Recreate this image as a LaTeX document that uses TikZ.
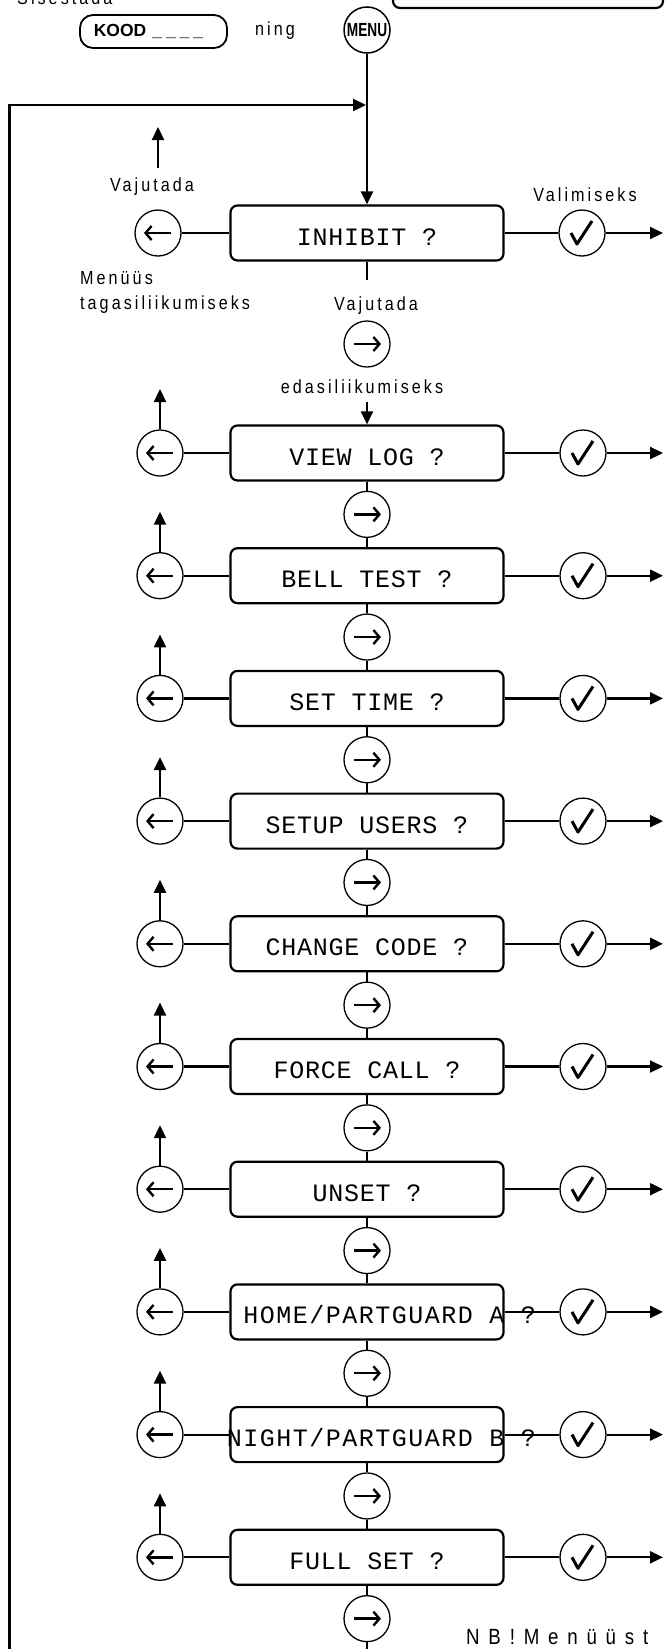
\documentclass[tikz,border=0pt]{standalone}
\usepackage{fontspec}
\usetikzlibrary{arrows.meta,calc}
\newfontfamily\boxfont[LetterSpace=3]{Liberation Mono}
\newfontfamily\wideboxfont[LetterSpace=6]{Liberation Mono}
\newfontfamily\lblfont[FakeStretch=0.85,LetterSpace=16]{Liberation Sans}
\newfontfamily\nbfont[FakeStretch=0.85,LetterSpace=40]{Liberation Sans}
\newfontfamily\keyfont{Liberation Sans}
\newfontfamily\menufont[FakeStretch=0.72]{Liberation Sans}
\begin{document}
\begin{tikzpicture}[x=1pt,y=-1pt,
  conn/.style={line width=2.2pt},
  thinconn/.style={line width=1.3pt},
  tip/.style={-{Triangle[length=13pt,width=12pt]}},
  menubox/.style={draw,line width=2.2pt,rounded corners=7pt,minimum width=273pt,minimum height=55pt,inner sep=0pt,font=\boxfont\fontsize{25}{30}\selectfont,text height=24pt,text depth=0pt},
  boxtxt/.style={inner sep=0pt,font=\wideboxfont\fontsize{25}{30}\selectfont,text height=24pt,text depth=0pt},
  circ/.style={draw,circle,line width=1.3pt,minimum size=46pt,inner sep=0pt},
  backc/.style={circ,path picture={\draw[line width=2.4pt,-{Straight Barb[length=6pt,width=14pt]}] ([xshift=13pt]path picture bounding box.center) -- ([xshift=-14pt]path picture bounding box.center);}},
  fwdc/.style={circ,path picture={\draw[line width=2.4pt,-{Straight Barb[length=6pt,width=14pt]}] ([xshift=-13pt]path picture bounding box.center) -- ([xshift=14pt]path picture bounding box.center);}},
  okc/.style={circ,path picture={\draw[line width=3pt,line join=round] ([shift={(-11pt,0pt)}]path picture bounding box.center) -- ([shift={(-5pt,-11pt)}]path picture bounding box.center) -- ([shift={(10pt,12pt)}]path picture bounding box.center);}},
  lbl/.style={inner sep=0pt,font=\lblfont\fontsize{19}{22}\selectfont},
]
\useasboundingbox (0,0) rectangle (665,1649);

% top
\node[lbl,anchor=base west] (sis) at (17,4) {Sisestada};
\node[draw,line width=2.2pt,rounded corners=7pt,minimum width=270pt,minimum height=48pt,inner sep=0pt] (tr) at (528,-16) {};
\node[draw,line width=1.8pt,rounded corners=13pt,minimum width=147pt,minimum height=33pt,inner sep=0pt,font=\keyfont\bfseries\fontsize{17.5}{20}\selectfont] (k) at (153.5,31.5) {KOOD\hspace{6pt}\_\hspace{4pt}\_\hspace{4pt}\_\hspace{4pt}\_\hspace*{10pt}};
\node[lbl] (ning) at (275,31) {ning};
\node[circ,line width=1.5pt,font=\menufont\bfseries\fontsize{19}{22}\selectfont] (m) at (367,30) {MENU};

% INHIBIT row
\node[menubox] (b0) at (367,233) {INHIBIT ?};
\node[backc] (l0) at (158,233) {};
\node[okc] (c0) at (582,233) {};
\node[lbl] (v0) at (152,187) {Vajutada};
\node[lbl] (val) at (585,195) {Valimiseks};
\node[lbl,anchor=west] (mn) at (80,278) {Menüüs};
\node[lbl,anchor=west] (tg) at (80,305) {tagasiliikumiseks};
\node[lbl] (v1) at (376,306) {Vajutada};
\node[fwdc] (f0) at (367,344) {};
\node[lbl] (ed) at (362,387) {edasiliikumiseks};
\coordinate (u0a) at (158,168);
\coordinate (u0b) at (158,127);
\coordinate (o0) at (663,233);
\coordinate (t0) at (367,280);
\coordinate (d0) at (367,402);
\coordinate (fbs) at (9.5,1649);
\coordinate (fbj) at (366,105);

% menu boxes
\node[menubox] (b1) at (367,453) {VIEW LOG ?};
\node[menubox] (b2) at (367,575.7) {BELL TEST ?};
\node[menubox] (b3) at (367,698.4) {SET TIME ?};
\node[menubox] (b4) at (367,821.1) {SETUP USERS ?};
\node[menubox] (b5) at (367,943.8) {CHANGE CODE ?};
\node[menubox] (b6) at (367,1066.5) {FORCE CALL ?};
\node[menubox] (b7) at (367,1189.2) {UNSET ?};
\node[menubox] (b8) at (367,1311.9) {};
\node[boxtxt,anchor=east] (t8) at (536,1311.9) {HOME/PARTGUARD A ?};
\node[menubox] (b9) at (367,1434.6) {};
\node[boxtxt,anchor=east] (t9) at (536,1434.6) {NIGHT/PARTGUARD B ?};
\node[menubox] (b10) at (367,1557.3) {FULL SET ?};
\node[inner sep=0pt,anchor=west,font=\nbfont\fontsize{22}{26}\selectfont] (nb) at (466,1637) {NB!Menüüst};
\coordinate (fend) at (367,1649);

% connectors of the top part
\draw[conn,tip] (m.south) -- (b0.north);
\draw[conn,tip] (fbs) |- (fbj);
\draw[conn] (b0.west) -- (l0.east);
\draw[conn,tip] (u0a) -- (u0b);
\draw[conn] (b0.east) -- (c0.west);
\draw[conn,tip] (c0.east) -- (o0);
\draw[thinconn] (b0.south) -- (t0);
\draw[conn,tip] (d0) -- (b1.north);

% repeated row decorations
\foreach \i/\y in {1/453,2/575.7,3/698.4,4/821.1,5/943.8,6/1066.5,7/1189.2,8/1311.9,9/1434.6,10/1557.3}{
  \node[backc] (l\i) at (160,\y) {};
  \node[okc] (c\i) at (583,\y) {};
  \node[fwdc] (f\i) at (367,\y+61.35) {};
  \coordinate (u\i) at (160,\y-64);
  \coordinate (o\i) at (663,\y);
  \draw[conn] (b\i.west) -- (l\i.east);
  \draw[conn,tip] (l\i.north) -- (u\i);
  \draw[conn] (b\i.east) -- (c\i.west);
  \draw[conn,tip] (c\i.east) -- (o\i);
  \draw[conn] (b\i.south) -- (f\i.north);
}
\foreach \i/\j in {1/2,2/3,3/4,4/5,5/6,6/7,7/8,8/9,9/10}{
  \draw[conn] (f\i.south) -- (b\j.north);
}
\draw[conn] (f10.south) -- (fend);
\end{tikzpicture}
\end{document}
